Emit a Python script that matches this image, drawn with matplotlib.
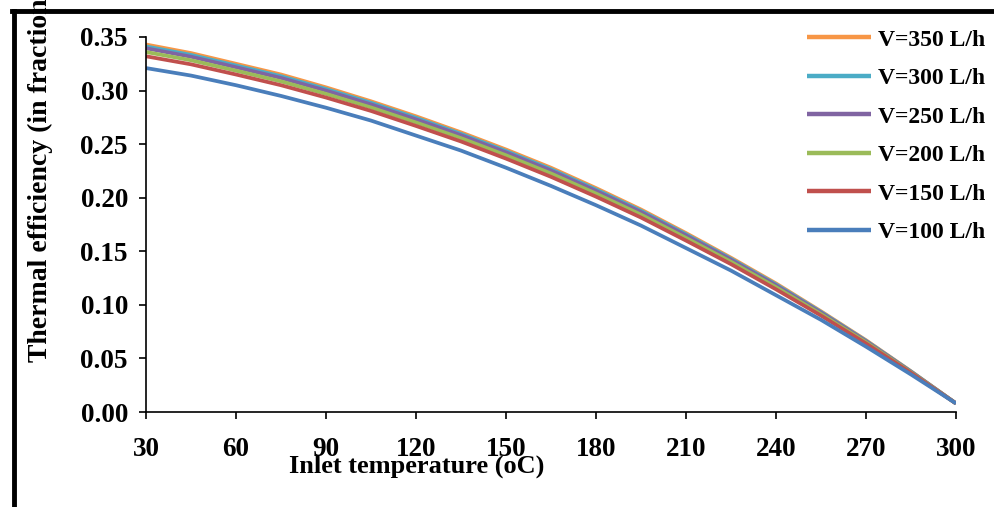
import matplotlib
matplotlib.use("Agg")
import matplotlib.pyplot as plt
from matplotlib.lines import Line2D

## Data: inlet temperature (oC) and thermal efficiency per flow rate
temp = [30, 45, 60, 75, 90, 105, 120, 135, 150, 165,
        180, 195, 210, 225, 240, 255, 270, 285, 300]
eff_350 = [0.343, 0.335, 0.325, 0.315, 0.303, 0.290, 0.276, 0.261, 0.245, 0.228,
           0.209, 0.189, 0.167, 0.144, 0.120, 0.094, 0.067, 0.038, 0.008]
eff_300 = [0.3412, 0.3333, 0.3234, 0.3134, 0.3015, 0.2886, 0.2746, 0.2596, 0.2436, 0.2266,
           0.2077, 0.1878, 0.1659, 0.1430, 0.1191, 0.0934, 0.0665, 0.0378, 0.0080]
eff_250 = [0.3395, 0.3316, 0.3218, 0.3118, 0.3000, 0.2871, 0.2731, 0.2583, 0.2423, 0.2253,
           0.2064, 0.1866, 0.1648, 0.1421, 0.1182, 0.0927, 0.0660, 0.0375, 0.0080]
eff_200 = [0.3360, 0.3283, 0.3186, 0.3086, 0.2969, 0.2842, 0.2702, 0.2556, 0.2396, 0.2226,
           0.2039, 0.1842, 0.1625, 0.1402, 0.1165, 0.0914, 0.0651, 0.0370, 0.0080]
eff_150 = [0.3320, 0.3245, 0.3150, 0.3050, 0.2935, 0.2810, 0.2670, 0.2525, 0.2365, 0.2195,
           0.2010, 0.1815, 0.1600, 0.1380, 0.1145, 0.0900, 0.0640, 0.0365, 0.0080]
eff_100 = [0.321, 0.314, 0.305, 0.295, 0.284, 0.272, 0.258, 0.244, 0.228, 0.211,
           0.193, 0.174, 0.153, 0.132, 0.109, 0.086, 0.061, 0.035, 0.008]

labels = ["V=350 L/h", "V=300 L/h", "V=250 L/h", "V=200 L/h", "V=150 L/h", "V=100 L/h"]
series = [eff_350, eff_300, eff_250, eff_200, eff_150, eff_100]
colors = ["#F79646", "#4BACC6", "#8064A2", "#9BBB59", "#C0504D", "#4A7EBB"]

xticks = [30, 60, 90, 120, 150, 180, 210, 240, 270, 300]
yticks = [0.00, 0.05, 0.10, 0.15, 0.20, 0.25, 0.30, 0.35]

plt.rcParams['font.family'] = ['Liberation Serif', 'DejaVu Serif']
plt.rcParams['font.weight'] = 'bold'

W, H = 994, 507
fig = plt.figure(figsize=(W / 100, H / 100), dpi=100)
ax = fig.add_axes([146 / W, (H - 412) / H, 810 / W, 375 / H])

## Lines
for y, lab, c in zip(series, labels, colors):
    ax.plot(temp, y, color=c, lw=2.7, label=lab,
            solid_capstyle='butt', solid_joinstyle='round')

ax.set_xlim(30, 300)
ax.set_ylim(0, 0.35)
ax.set_xticks(xticks)
ax.set_xticklabels([str(t) for t in xticks])
ax.set_yticks(yticks)
ax.set_yticklabels(["%.2f" % v for v in yticks])

for s in ['top', 'right']:
    ax.spines[s].set_visible(False)
for s in ['left', 'bottom']:
    ax.spines[s].set_linewidth(1.2)
ax.tick_params(axis='both', direction='out', length=5, width=1.2, labelsize=19.5)
ax.tick_params(axis='y', pad=8)
ax.tick_params(axis='x', pad=13)
for t in ax.get_xticklabels() + ax.get_yticklabels():
    t.set_fontweight('bold')

## Axis labels
ax.text((417 - 146) / 810, (412 - 473) / 375, "Inlet temperature (oC)",
        transform=ax.transAxes, ha='center', va='baseline',
        fontsize=19, fontweight='bold')
fig.text(40 / W, (H - 362) / H, "Thermal efficiency (in fraction)",
         rotation=90, ha='center', va='bottom', fontsize=20, fontweight='bold')

## Legend
leg = ax.legend(loc='upper right', bbox_to_anchor=(985 / W, (H - 29) / H),
                bbox_transform=fig.transFigure, frameon=False,
                prop={'size': 17, 'weight': 'bold'}, handlelength=2.7,
                handletextpad=0.3, labelspacing=0.72, borderpad=0,
                borderaxespad=0)
for h in leg.get_lines():
    h.set_linewidth(3.2)

## Border of the figure (only left and top show)
fig.add_artist(Line2D([14 / W, 14 / W], [0, (H - 11) / H], color='black',
                      lw=3.5, transform=fig.transFigure))
fig.add_artist(Line2D([12 / W, 1], [(H - 11) / H, (H - 11) / H], color='black',
                      lw=3.5, transform=fig.transFigure))

plt.savefig('out.png', dpi=100)
